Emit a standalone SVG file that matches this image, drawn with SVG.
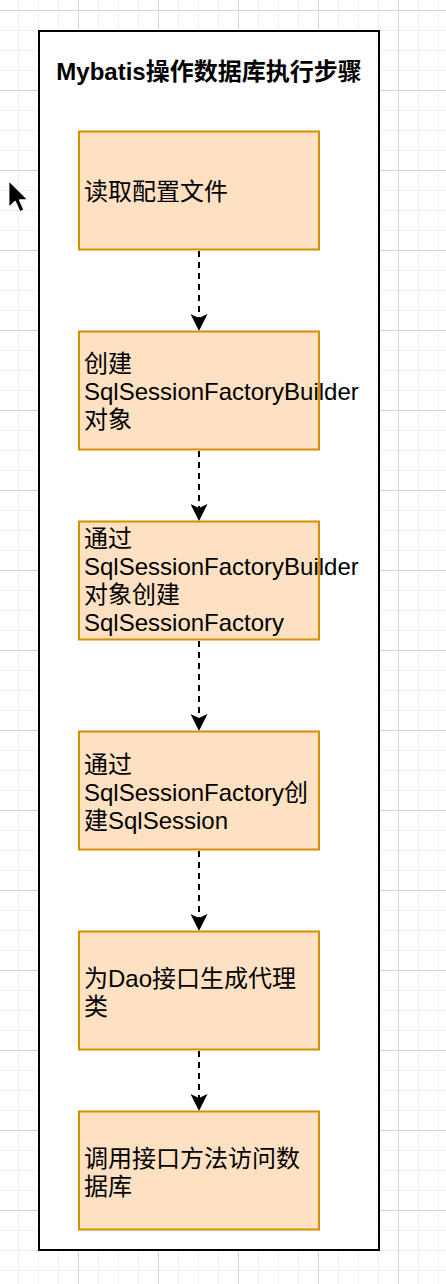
<svg xmlns="http://www.w3.org/2000/svg" width="446" height="1284" viewBox="0 0 446 1284">
<style>
.title{font-family:"Liberation Sans","Noto Sans CJK SC",sans-serif;font-size:24px;font-weight:bold;fill:#000}
.lbl{font-family:"Liberation Sans","Noto Sans CJK SC",sans-serif;font-size:24px;fill:#000}
.box{fill:#fee1c2;stroke:#d68f00;stroke-width:2}
.edge{fill:none;stroke:#000;stroke-width:2;stroke-dasharray:6 5}
</style>
<defs>
<pattern id="minor" width="20" height="20" patternUnits="userSpaceOnUse" x="18" y="10">
<path d="M0 0.5H20M0.5 0V20" stroke="#f0f0f0" stroke-width="1" fill="none"/>
</pattern>
<pattern id="major" width="80" height="80" patternUnits="userSpaceOnUse" x="78" y="10">
<path d="M0 0.5H80M0.5 0V80" stroke="#d4d4d4" stroke-width="1" fill="none"/>
</pattern>
<marker id="arrow" viewBox="0 0 17 17" markerWidth="17" markerHeight="17" refX="4" refY="8.5" orient="auto" markerUnits="userSpaceOnUse">
<path d="M0,0 L17,8.5 L0,17 L4,8.5 Z" fill="#000"/>
</marker>
</defs>
<rect width="446" height="1284" fill="#fff"/>
<rect width="446" height="1284" fill="url(#minor)"/>
<rect width="446" height="1284" fill="url(#major)"/>
<g id="cursor">
<path d="M0,0 L0,17 L4,13.2 L6.8,19.5 L9.6,18.3 L6.9,12.2 L12.2,12.2 Z" transform="translate(8.5,180) scale(1.65)" fill="#000" stroke="#fff" stroke-width="1.1" stroke-linejoin="round"/>
</g>
<g id="container">
<rect x="39" y="31" width="340" height="1219" fill="#fff" stroke="#000" stroke-width="2"/>
<text class="title" x="209" y="80" text-anchor="middle">Mybatis操作数据库执行步骤</text>
</g>
<g id="connectors">
<path class="edge" d="M199,251 V318" marker-end="url(#arrow)"/>
<path class="edge" d="M199,451 V508" marker-end="url(#arrow)"/>
<path class="edge" d="M199,641 V718" marker-end="url(#arrow)"/>
<path class="edge" d="M199,851 V918" marker-end="url(#arrow)"/>
<path class="edge" d="M199,1051 V1098" marker-end="url(#arrow)"/>
</g>
<g id="n1">
<rect class="box" x="79" y="131.5" width="240" height="118"/>
<text class="lbl" x="84" y="200">读取配置文件</text>
</g>
<g id="n2">
<rect class="box" x="79" y="331.5" width="240" height="118"/>
<text class="lbl" x="84" y="372"><tspan x="84" y="372">创建</tspan><tspan x="84" y="400">SqlSessionFactoryBuilder</tspan><tspan x="84" y="428">对象</tspan></text>
</g>
<g id="n3">
<rect class="box" x="79" y="521.5" width="240" height="118"/>
<text class="lbl" x="84" y="547"><tspan x="84" y="547">通过</tspan><tspan x="84" y="575">SqlSessionFactoryBuilder</tspan><tspan x="84" y="603">对象创建</tspan><tspan x="84" y="631">SqlSessionFactory</tspan></text>
</g>
<g id="n4">
<rect class="box" x="79" y="731.5" width="240" height="118"/>
<text class="lbl" x="84" y="773"><tspan x="84" y="773">通过</tspan><tspan x="84" y="801">SqlSessionFactory创</tspan><tspan x="84" y="829">建SqlSession</tspan></text>
</g>
<g id="n5">
<rect class="box" x="79" y="931.5" width="240" height="118"/>
<text class="lbl" x="84" y="987"><tspan x="84" y="987">为Dao接口生成代理</tspan><tspan x="84" y="1015">类</tspan></text>
</g>
<g id="n6">
<rect class="box" x="79" y="1111.5" width="240" height="118"/>
<text class="lbl" x="84" y="1167"><tspan x="84" y="1167">调用接口方法访问数</tspan><tspan x="84" y="1195">据库</tspan></text>
</g>
</svg>
